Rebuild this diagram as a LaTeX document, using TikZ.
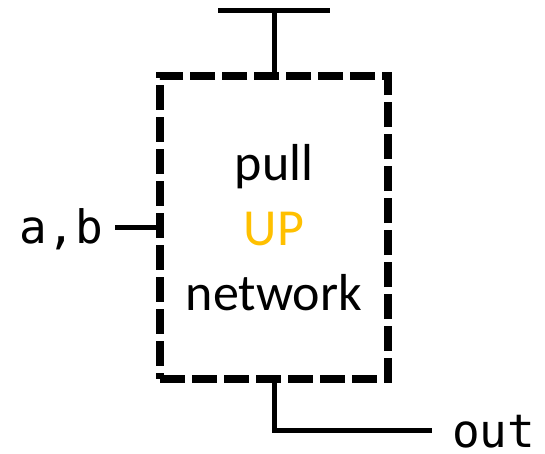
\documentclass[tikz,border=0pt]{standalone}
\usepackage{fontspec}
\setmainfont{Carlito}
\newfontfamily\codefont{DejaVu Sans Mono}
\definecolor{upgold}{RGB}{255,192,0}
\usetikzlibrary{positioning}

\begin{document}
\begin{tikzpicture}[x=1pt,y=-1pt,
    wire/.style={line width=5pt},
    netbox/.style={draw, line width=7.5pt, dash pattern=on 25pt off 7pt,
      minimum width=228pt, minimum height=303pt, align=center,
      font=\fontsize{52}{65}\selectfont},
    pinlabel/.style={font=\codefont\fontsize{46}{50}\selectfont, inner sep=0pt}]
    \useasboundingbox (0,0) rectangle (545,453);
    % Network block
    \node[netbox] (pun) at (274,227.5) {pull\\{\color{upgold}UP}\\network};
    % Supply rail
    \coordinate (vdd) at (274,10);
    \coordinate (vddl) at (218,10);
    \coordinate (vddr) at (330,10);
    \draw[wire] (pun.north) -- (vdd);
    \draw[wire] (vddl) -- (vddr);
    % Inputs and output
    \node[pinlabel, outer sep=12pt, anchor=east] (ab) at (115,229) {a,b};
    \coordinate (outpin) at (432,430);
    \node[pinlabel, anchor=base west] (out) at (452,447) {out};
    \draw[wire] (pun.west -| ab.east) -- (pun.west);
    \draw[wire] (pun.south) |- (outpin);
\end{tikzpicture}
\end{document}
